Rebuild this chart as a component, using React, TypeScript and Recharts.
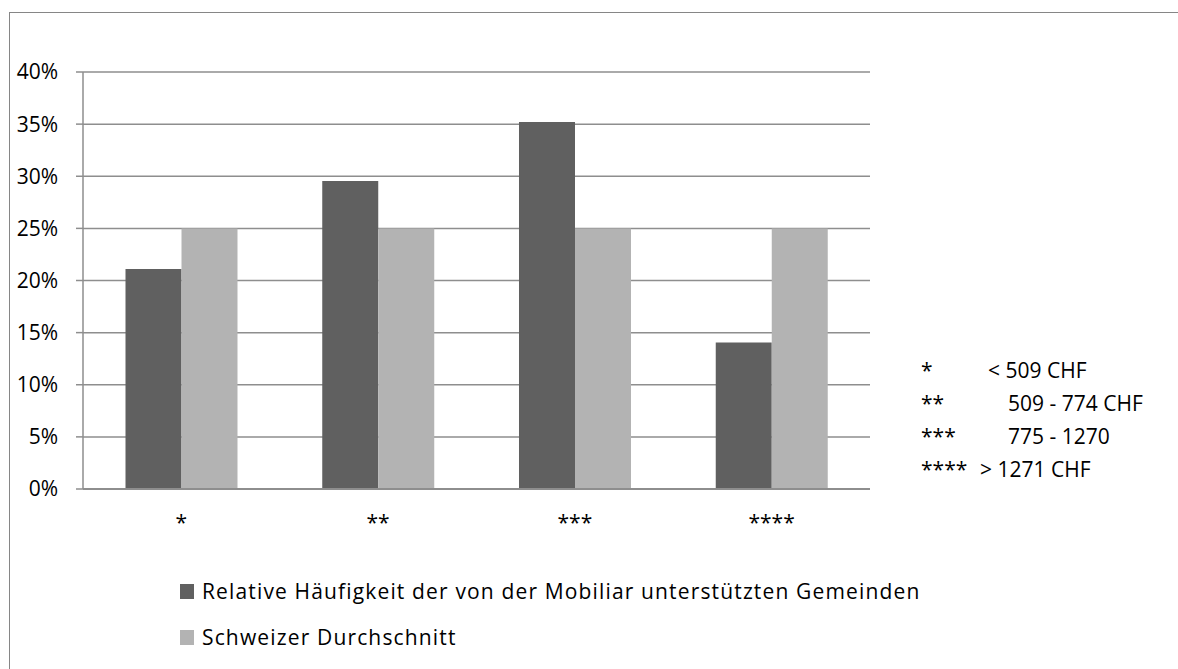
import { BarChart, Bar, XAxis, YAxis, CartesianGrid, Legend } from 'recharts';

const categories = ['*', '**', '***', '****'];
const mobiliar = [21.1, 29.55, 35.2, 14.05];
const schweiz = [25, 25, 25, 25];
const yTicks = [0, 5, 10, 15, 20, 25, 30, 35, 40];

const seriesNames = [
  'Relative Häufigkeit der von der Mobiliar unterstützten Gemeinden',
  'Schweizer Durchschnitt',
];

const classes = [
  { stars: '*', range: '< 509 CHF', x: 988 },
  { stars: '**', range: '509 - 774 CHF', x: 1008 },
  { stars: '***', range: '775 - 1270', x: 1008 },
  { stars: '****', range: '> 1271 CHF', x: 980 },
];

const data = categories.map((c, i) => ({
  name: c,
  mobiliar: mobiliar[i],
  schweiz: schweiz[i],
}));

const FONT = '"Open Sans", Lato, sans-serif';

function LegendBox({ payload }: any) {
  return (
    <div style={{ fontFamily: FONT, fontSize: 21, color: '#000', letterSpacing: 1.15 }}>
      {(payload || []).map((p: any, i: number) => (
        <div key={i} style={{ display: 'flex', alignItems: 'center', height: 46 }}>
          <span style={{ width: 14, height: 15, background: p.color, marginRight: 8, display: 'inline-block' }} />
          <span>{p.value}</span>
        </div>
      ))}
    </div>
  );
}

export default function App() {
  return (
    <div style={{ position: 'absolute', left: 0, top: 0, width: 1178, height: 669, overflow: 'hidden', background: '#fff' }}>
      <div
        style={{
          position: 'absolute',
          left: 9,
          top: 12,
          width: 1200,
          height: 700,
          borderLeft: '1.5px solid #868686',
          borderTop: '1.5px solid #868686',
        }}
      />
      <div style={{ position: 'absolute', left: 8, top: 8 }}>
        <BarChart
          width={1170}
          height={661}
          data={data}
          margin={{ top: 64, right: 308, left: 0, bottom: 140 }}
          barCategoryGap="21.6%"
          barGap={0}
        >
          <CartesianGrid vertical={false} stroke="#8e8e8e" strokeWidth={1.5} />
          <XAxis
            dataKey="name"
            height={40}
            tickLine={false}
            axisLine={{ stroke: '#8e8e8e', strokeWidth: 2 }}
            tick={{ fill: '#000', fontSize: 21, fontFamily: FONT }}
            tickMargin={20}
          />
          <YAxis
            width={75}
            domain={[0, 40]}
            ticks={yTicks}
            interval={0}
            tickFormatter={(v: number) => `${v}%`}
            axisLine={{ stroke: '#8e8e8e', strokeWidth: 1.5 }}
            tickLine={{ stroke: '#8e8e8e', strokeWidth: 1.5 }}
            tickSize={7}
            tickMargin={18}
            tick={{ fill: '#000', fontSize: 21, fontFamily: FONT }}
          />
          <Bar dataKey="mobiliar" name={seriesNames[0]} fill="#606060" isAnimationActive={false} />
          <Bar dataKey="schweiz" name={seriesNames[1]} fill="#b3b3b3" isAnimationActive={false} />
          <Legend
            layout="vertical"
            align="center"
            verticalAlign="middle"
            content={<LegendBox />}
            wrapperStyle={{ left: 172, top: 560, width: 900, height: 92 }}
          />
        </BarChart>
      </div>
      <div style={{ position: 'absolute', left: 0, top: 0, fontFamily: FONT, fontSize: 21, color: '#000' }}>
        {classes.map((c, i) => (
          <div key={i}>
            <span style={{ position: 'absolute', left: 921, top: 356 + i * 33, whiteSpace: 'nowrap' }}>{c.stars}</span>
            <span style={{ position: 'absolute', left: c.x, top: 356 + i * 33, whiteSpace: 'nowrap' }}>{c.range}</span>
          </div>
        ))}
      </div>
    </div>
  );
}
